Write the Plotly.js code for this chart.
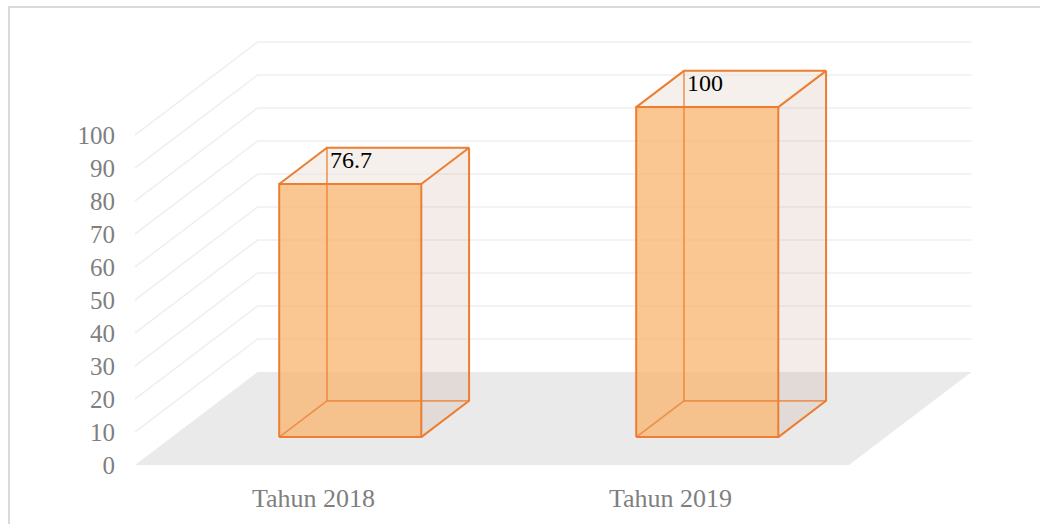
<!DOCTYPE html>
<html>
<head>
<meta charset="utf-8">
<script src="https://cdn.plot.ly/plotly-3.0.1.min.js"></script>
<style>html,body{margin:0;padding:0;background:#fff;}#chart{width:1040px;height:524px;}</style>
</head>
<body>
<div id="chart"></div>
<script>
// ---- data ----
const categories = ['Tahun 2018', 'Tahun 2019'];
const values = [76.7, 100];
const valueLabels = ['76.7', '100'];
const yTickVals = [0, 10, 20, 30, 40, 50, 60, 70, 80, 90, 100];
const yTickText = ['0', '10', '20', '30', '40', '50', '60', '70', '80', '90', '100'];

// ---- layout geometry (styling) ----
const FIG_W = 1040, FIG_H = 524;
const M = {l: 120, r: 40, t: 20, b: 44};
const PW = FIG_W - M.l - M.r, PH = FIG_H - M.t - M.b;
const zeroPx = 465, pxPerUnit = 3.3;      // front plane vertical scale
const cat0Px = 313.5, catPx = 357;        // category spacing
const yRange = [(zeroPx - (M.t + PH)) / pxPerUnit, (zeroPx - M.t) / pxPerUnit];
const xRange = [(M.l - cat0Px) / catPx, (M.l + PW - cat0Px) / catPx];
const DX = 122.5 / catPx;                 // depth offset in x units
const DY = 93 / pxPerUnit;                // depth offset in y units
const halfW = 0.199, dF = 0.30, dB = 0.69; // bar half width / depth span

function P(x, v, d) { return [x + d * DX, v + d * DY]; }

const traces = [];
function poly(pts, fill, lineColor, lineW, closed) {
  const xs = pts.map(p => p[0]), ys = pts.map(p => p[1]);
  if (closed) { xs.push(pts[0][0]); ys.push(pts[0][1]); }
  traces.push({
    type: 'scatter', mode: 'lines', x: xs, y: ys,
    fill: fill ? 'toself' : 'none', fillcolor: fill || undefined,
    line: {color: lineColor || 'rgba(0,0,0,0)', width: lineW || 0},
    hoverinfo: 'skip', showlegend: false, cliponaxis: false
  });
}

// floor
const xL = -0.5, xR = categories.length - 0.5;
poly([P(xL, 0, 0), P(xR, 0, 0), P(xR, 0, 1), P(xL, 0, 1)], '#EAEAEA', null, 0, true);
// back wall + left wall gridlines
const gridColor = '#F0F0F0';
yTickVals.forEach(v => {
  if (v > 0) poly([P(xR, v, 1), P(xL, v, 1), P(xL, v, 0)], null, gridColor, 1.6, false);
});

// bars
const edge = '#ED7D31';
const hiddenEdge = 'rgba(237,125,49,0.75)';
categories.forEach((c, i) => {
  const v = values[i];
  const xl = i - halfW, xr = i + halfW;
  // top face
  poly([P(xl, v, dF), P(xr, v, dF), P(xr, v, dB), P(xl, v, dB)], 'rgba(236,226,216,0.5)', null, 0, true);
  // right side face
  poly([P(xr, 0, dF), P(xr, 0, dB), P(xr, v, dB), P(xr, v, dF)], 'rgba(190,145,125,0.17)', null, 0, true);
  // front face
  poly([P(xl, 0, dF), P(xr, 0, dF), P(xr, v, dF), P(xl, v, dF)], 'rgba(248,180,110,0.75)', null, 0, true);
  // hidden edges
  poly([P(xl, v, dB), P(xl, 0, dB), P(xr, 0, dB)], null, hiddenEdge, 1.7, false);
  poly([P(xl, 0, dF), P(xl, 0, dB)], null, hiddenEdge, 1.7, false);
  // visible edges
  poly([P(xl, 0, dF), P(xr, 0, dF), P(xr, v, dF), P(xl, v, dF)], null, edge, 2, true);
  poly([P(xl, v, dF), P(xl, v, dB), P(xr, v, dB), P(xr, v, dF)], null, edge, 2, false);
  poly([P(xr, 0, dF), P(xr, 0, dB), P(xr, v, dB)], null, edge, 2, false);
});

// data labels
const annotations = categories.map((c, i) => {
  const p = P(i - halfW, values[i], dB);
  return {
    x: p[0], y: p[1], xref: 'x', yref: 'y', text: valueLabels[i],
    showarrow: false, xanchor: 'left', yanchor: 'top', xshift: 1, yshift: 3,
    font: {family: 'Liberation Serif, serif', size: 24, color: '#000000'}
  };
});

// chart border (paper coords)
const px2paperX = px => (px - M.l) / PW;
const px2paperY = py => (M.t + PH - py) / PH;

const layout = {
  width: FIG_W, height: FIG_H,
  margin: M,
  paper_bgcolor: '#ffffff', plot_bgcolor: 'rgba(0,0,0,0)',
  hovermode: false, showlegend: false,
  xaxis: {
    range: xRange, tickvals: categories.map((c, i) => i), ticktext: categories,
    showgrid: false, zeroline: false, showline: false, ticks: '',
    tickfont: {family: 'Liberation Serif, serif', size: 26, color: '#7F7F7F'},
    fixedrange: true
  },
  yaxis: {
    range: yRange, tickvals: yTickVals, ticktext: yTickText,
    showgrid: false, zeroline: false, showline: false, ticks: '',
    ticklabelstandoff: 4,
    tickfont: {family: 'Liberation Serif, serif', size: 25, color: '#7F7F7F'},
    fixedrange: true
  },
  annotations: annotations,
  shapes: [{
    type: 'rect', xref: 'paper', yref: 'paper',
    x0: px2paperX(9), x1: px2paperX(1060), y0: px2paperY(540), y1: px2paperY(7),
    line: {color: '#DADADA', width: 2}, fillcolor: 'rgba(0,0,0,0)', layer: 'below'
  }]
};

Plotly.newPlot('chart', traces, layout, {displayModeBar: false, staticPlot: true});
</script>
</body>
</html>
